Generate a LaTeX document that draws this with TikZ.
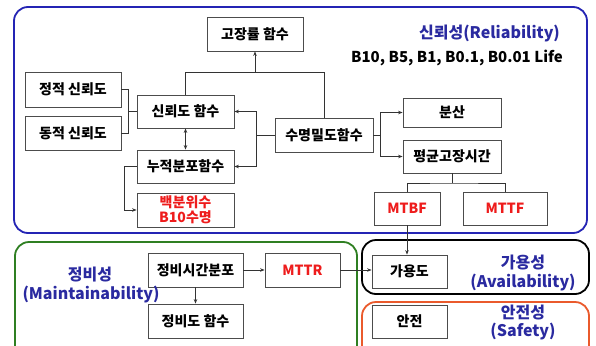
\documentclass[tikz,border=0pt]{standalone}
\usepackage{fontspec}
\setmainfont{Noto Sans CJK KR}
\usetikzlibrary{arrows.meta}
\definecolor{frameblue}{HTML}{2424B4}
\definecolor{textblue}{HTML}{2A2AA0}
\definecolor{framegreen}{HTML}{2F7F22}
\definecolor{frameorange}{HTML}{EA5A2C}
\definecolor{txtred}{HTML}{EE1C1C}
\tikzset{
  box/.style={draw=black!70, line width=0.8pt, fill=white, inner sep=0pt,
    align=center, font=\fontsize{14}{15}\selectfont\bfseries},
  conn/.style={draw=black!80, line width=0.9pt},
  arr/.style={conn, -{Stealth[length=4.5pt,width=3.5pt]}},
  arrboth/.style={conn, {Stealth[length=4.5pt,width=3.5pt]}-{Stealth[length=4.5pt,width=3.5pt]}},
  frame/.style={line width=1.8pt, rounded corners=14pt},
  redtxt/.style={text=txtred},
  title/.style={text=textblue, font=\fontsize{16}{18}\selectfont\bfseries, inner sep=0pt},
}
\begin{document}
\begin{tikzpicture}[x=1pt,y=-1pt]
\useasboundingbox (0,0) rectangle (596,345);
% frames
\draw[frame, draw=frameblue] (14,7) rectangle (587,233);
\draw[frame, draw=framegreen] (15,242) rectangle (357,370);
\draw[frame, draw=black] (362,240) rectangle (589,294);
\draw[frame, draw=frameorange] (362,302) rectangle (589,370);

% reliability nodes
\node[box, minimum width=96pt, minimum height=34pt] (fr) at (255,34) {고장률 함수};
\node[box, minimum width=96pt, minimum height=35pt] (st) at (73,89.5) {정적 신뢰도};
\node[box, minimum width=96pt, minimum height=34pt] (dy) at (73,133) {동적 신뢰도};
\node[box, minimum width=97pt, minimum height=33pt] (rf) at (185.5,111.5) {신뢰도 함수};
\node[box, minimum width=97pt, minimum height=33pt] (cdf) at (185.5,166.5) {누적분포함수};
\node[box, minimum width=97pt, minimum height=34pt, redtxt] (pct) at (185.5,210) {백분위수\\[0pt]B10수명};
\node[box, minimum width=98pt, minimum height=34pt] (pdf) at (324,135) {수명밀도함수};
\node[box, minimum width=98pt, minimum height=29pt] (var) at (452,112.5) {분산};
\node[box, minimum width=98pt, minimum height=33pt] (mtt) at (452,156.5) {평균고장시간};
\node[box, minimum width=66pt, minimum height=33pt, redtxt] (mtbf) at (407,208.5) {MTBF};
\node[box, minimum width=84pt, minimum height=33pt, redtxt] (mttf) at (505,208.5) {MTTF};

% maintainability / availability / safety nodes
\node[box, minimum width=95pt, minimum height=34pt] (mtd) at (195.5,270) {정비시간분포};
\node[box, minimum width=95pt, minimum height=34pt] (mf) at (195.5,321) {정비도 함수};
\node[box, minimum width=75pt, minimum height=34pt, redtxt] (mttr) at (302.5,270) {MTTR};
\node[box, minimum width=75pt, minimum height=33pt] (av) at (409.5,271.5) {가용도};
\node[box, minimum width=75pt, minimum height=33pt] (sf) at (409.5,321.5) {안전};

% junctions
\coordinate (jL) at (256,135);
\coordinate (jTR) at (324,72);
\coordinate (jTL) at (185.5,72);
\coordinate (jR) at (380,135);
\coordinate (jM) at (452,183);
\coordinate (jS) at (128,111.5);
\coordinate (jP) at (124,166.5);

% connectors
\draw[conn] (pdf.west) -- (jL);
\draw[arr] (jL) |- (rf.east);
\draw[arr] (jL) |- (cdf.east);
\draw[conn] (pdf.north) -- (jTR) -- (jTL) -- (rf.north);
\draw[arr] (fr.south |- jTR) -- (fr.south);
\draw[conn] (pdf.east) -- (jR);
\draw[arr] (jR) |- (var.west);
\draw[arr] (jR) |- (mtt.west);
\draw[conn] (mtt.south) -- (jM);
\draw[conn] (mtbf.north) |- (jM) -| (mttf.north);
\draw[conn] (st.east) -| (jS);
\draw[conn] (dy.east) -| (jS);
\draw[conn] (jS) -- (rf.west);
\draw[arrboth] (rf.south) -- (cdf.north);
\draw[arr] (cdf.west) -- (jP) |- (pct.west);
\draw[arr] (mtd.east) -- (mttr.west);
\draw[arr] (mtd.south) -- (mf.north);
\draw[arr] (mttr.east) -- (mttr.east -| av.west);
\draw[arr] (mtbf.south) -- (mtbf.south |- av.north);

% titles
\node[title, anchor=east] (trel) at (560,33) {신뢰성(Reliability)};
\node[anchor=east, inner sep=0pt, font=\fontsize{15}{17}\selectfont\bfseries] (tlife) at (563,58) {B10, B5, B1, B0.1, B0.01 Life};
\node[title] (tmain1) at (90,275) {정비성};
\node[title] (tmain2) at (91,295) {(Maintainability)};
\node[title] (tav1) at (523,263) {가용성};
\node[title] (tav2) at (523,283) {(Availability)};
\node[title] (tsf1) at (523,313) {안전성};
\node[title] (tsf2) at (523,332) {(Safety)};
\end{tikzpicture}
\end{document}
